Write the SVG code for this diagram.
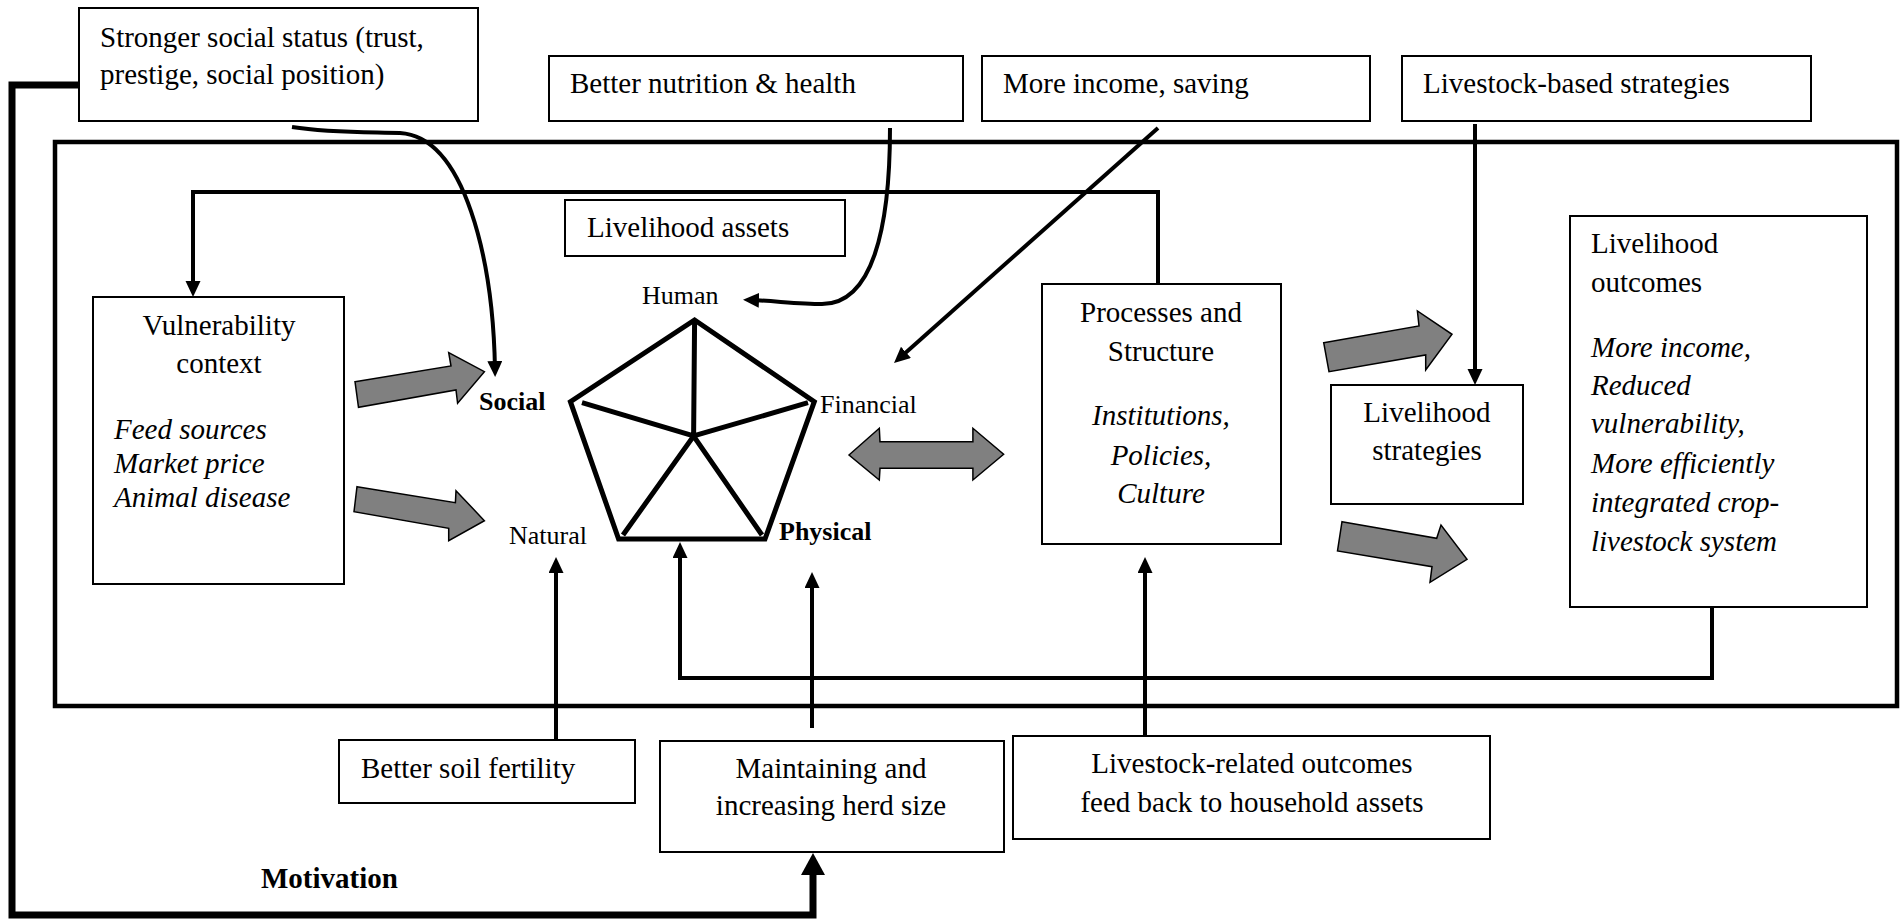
<svg xmlns="http://www.w3.org/2000/svg" width="1904" height="920" viewBox="0 0 1904 920">
<defs>
<style>
.box{fill:#fff;stroke:#000;stroke-width:2}
.t{font-family:"Liberation Serif","Times New Roman",serif;font-size:29px;fill:#000}
.s{font-family:"Liberation Serif","Times New Roman",serif;font-size:26px;fill:#000}
.b{font-weight:bold}
.i{font-style:italic}
.m{text-anchor:middle}
.ln{fill:none;stroke:#000;stroke-width:4}
.blk{fill:#808080;stroke:#000;stroke-width:1.5;stroke-linejoin:miter}
.pent{fill:none;stroke:#000;stroke-width:5;stroke-linejoin:miter}
</style>
<marker id="ah" markerUnits="userSpaceOnUse" markerWidth="17" markerHeight="16" refX="8" refY="7.5" orient="auto">
<path d="M0,0 L16,7.5 L0,15 z" fill="#000"/>
</marker>
<marker id="ahBig" markerUnits="userSpaceOnUse" markerWidth="23" markerHeight="25" refX="12" refY="12" orient="auto">
<path d="M0,0 L22,12 L0,24 z" fill="#000"/>
</marker>
</defs>
<rect width="1904" height="920" fill="#fff"/>

<g id="frame">
<rect x="55" y="142" width="1842" height="564" fill="none" stroke="#000" stroke-width="4.5"/>
</g>

<g id="connectors">
<path class="ln" d="M1158,284 V192 H193 V289" marker-end="url(#ah)"/>
<path class="ln" d="M1712,607 V678 H680 V550" marker-end="url(#ah)"/>
<path class="ln" d="M292,127 C330,133 370,132 400,133 C465,137 493,260 495,369" marker-end="url(#ah)"/>
<path class="ln" d="M890,128 C890,230 872,304 822,304 C800,304 775,301 751,300" marker-end="url(#ah)"/>
<path class="ln" d="M1158,128 L900,357.7" marker-end="url(#ah)"/>
<path class="ln" d="M1475,124 V377" marker-end="url(#ah)"/>
<path class="ln" d="M556,740 V565" marker-end="url(#ah)"/>
<path class="ln" d="M812,728 V580" marker-end="url(#ah)"/>
<path class="ln" d="M1145,735 V565" marker-end="url(#ah)"/>
<path d="M79,85 H12 V915 H813 V863" fill="none" stroke="#000" stroke-width="7" stroke-linejoin="miter" marker-end="url(#ahBig)"/>
<polygon class="blk" points="355,381.7 451,366 448.7,352.7 484.4,371.7 457.6,403.3 456,390 358.5,407.3"/>
<polygon class="blk" points="357,486.7 455.4,502.7 456,490.7 484.4,520.7 448.7,540.7 448.7,528.3 354,511.7"/>
<polygon class="blk" points="849,455 879.3,428.3 880,441.7 972.9,441.7 972.9,428.3 1003.6,454.3 972.9,480 972.9,468.3 880,468.3 879.3,480"/>
<polygon class="blk" points="1323.7,342.7 1419,326 1417.4,311 1452,334.3 1425.7,370 1425.7,355 1329,371.7"/>
<polygon class="blk" points="1342,521.7 1436.7,538.3 1441,525 1467,559.3 1430,582.3 1432,566.7 1337.5,551"/>
</g>

<g id="social-status">
<rect class="box" x="79" y="8" width="399" height="113"/>
<text class="t" x="100" y="47">Stronger social status (trust,</text>
<text class="t" x="100" y="84">prestige, social position)</text>
</g>

<g id="nutrition">
<rect class="box" x="549" y="56" width="414" height="65"/>
<text class="t" x="570" y="93">Better nutrition &amp; health</text>
</g>

<g id="income">
<rect class="box" x="982" y="56" width="388" height="65"/>
<text class="t" x="1003" y="93">More income, saving</text>
</g>

<g id="livestock-strategies">
<rect class="box" x="1402" y="56" width="409" height="65"/>
<text class="t" x="1423" y="93">Livestock-based strategies</text>
</g>

<g id="assets-label">
<rect class="box" x="565" y="200" width="280" height="56"/>
<text class="t" x="587" y="237">Livelihood assets</text>
</g>

<g id="pentagon">
<polygon class="pent" points="694.6,320 814.3,401.7 765,539 618.6,539 570.4,401.7"/>
<path class="pent" d="M694.6,320 L693.6,436 M582,402.7 L693.6,436 L808,402.7 M623,535 L693.6,436 L762,535"/>
<text class="s" x="642" y="304">Human</text>
<text class="s b" x="479" y="410">Social</text>
<text class="s" x="820" y="413">Financial</text>
<text class="s" x="509" y="544">Natural</text>
<text class="s b" x="779" y="540">Physical</text>
</g>

<g id="vulnerability">
<rect class="box" x="93" y="297" width="251" height="287"/>
<text class="t m" x="219" y="335">Vulnerability</text>
<text class="t m" x="219" y="373">context</text>
<text class="t i" x="114" y="439">Feed sources</text>
<text class="t i" x="114" y="473">Market price</text>
<text class="t i" x="114" y="507">Animal disease</text>
</g>

<g id="processes">
<rect class="box" x="1042" y="284" width="239" height="260"/>
<text class="t m" x="1161" y="322">Processes and</text>
<text class="t m" x="1161" y="361">Structure</text>
<text class="t m i" x="1161" y="425">Institutions,</text>
<text class="t m i" x="1161" y="465">Policies,</text>
<text class="t m i" x="1161" y="503">Culture</text>
</g>

<g id="strategies">
<rect class="box" x="1331" y="385" width="192" height="119"/>
<text class="t m" x="1427" y="422">Livelihood</text>
<text class="t m" x="1427" y="460">strategies</text>
</g>

<g id="outcomes">
<rect class="box" x="1570" y="216" width="297" height="391"/>
<text class="t" x="1591" y="253">Livelihood</text>
<text class="t" x="1591" y="292">outcomes</text>
<text class="t i" x="1591" y="357">More income,</text>
<text class="t i" x="1591" y="395">Reduced</text>
<text class="t i" x="1591" y="433">vulnerability,</text>
<text class="t i" x="1591" y="473">More efficiently</text>
<text class="t i" x="1591" y="512">integrated crop-</text>
<text class="t i" x="1591" y="551">livestock system</text>
</g>

<g id="soil">
<rect class="box" x="339" y="740" width="296" height="63"/>
<text class="t" x="361" y="778">Better soil fertility</text>
</g>

<g id="herd">
<rect class="box" x="660" y="741" width="344" height="111"/>
<text class="t m" x="831" y="778">Maintaining and</text>
<text class="t m" x="831" y="815">increasing herd size</text>
</g>

<g id="feedback">
<rect class="box" x="1013" y="736" width="477" height="103"/>
<text class="t m" x="1252" y="773">Livestock-related outcomes</text>
<text class="t m" x="1252" y="812">feed back to household assets</text>
</g>

<g id="motivation">
<text class="t b" x="261" y="888">Motivation</text>
</g>
</svg>
